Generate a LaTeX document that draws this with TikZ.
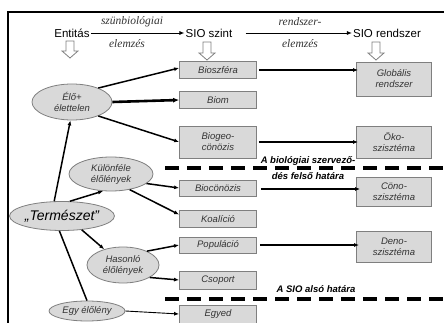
\documentclass[tikz,border=0pt]{standalone}
\usepackage{fontspec}
\setmainfont{Liberation Sans}
\newfontfamily\tmsfont{Liberation Serif}
\usetikzlibrary{arrows.meta,shapes.geometric,calc}
\definecolor{boxfill}{HTML}{D9D9D9}
\definecolor{boxline}{HTML}{7F7F7F}
\definecolor{txt}{HTML}{333333}
\begin{document}
\begin{tikzpicture}[x=1pt,y=-1pt,
 lvl/.style={draw=boxline, fill=boxfill, line width=0.8pt, font=\itshape\fontsize{9.5}{11}\selectfont, text=txt, align=center, inner sep=0pt, minimum width=77pt},
 sys/.style={lvl, minimum width=75pt},
 ell/.style={ellipse, draw=boxline, fill=boxfill, line width=0.8pt, font=\itshape\fontsize{9.5}{11}\selectfont, text=txt, align=center, inner sep=0pt},
 hdr/.style={font=\fontsize{11.5}{13}\selectfont, inner sep=1pt},
 ser/.style={font=\tmsfont\itshape\fontsize{11.5}{13}\selectfont, text=txt, inner sep=0pt},
 bnd/.style={font=\bfseries\itshape\fontsize{9.5}{11}\selectfont, inner sep=0pt, align=center},
 con/.style={line width=1.5pt, -{Latex[length=5pt,width=4pt]}},
 hcon/.style={line width=1.2pt, -{Latex[length=5pt,width=4pt]}},
 border/.style={line width=3.5pt, dash pattern=on 14pt off 8pt},
 hollow/.style={draw=boxline, fill=white, line width=0.8pt}
]
\useasboundingbox (0,0) rectangle (444,323);
% frame
\draw[line width=1.5pt] (8,323) -- (8,12) -- (444,12);

% header
\node[hdr] (ent) at (72,33) {Entitás};
\node[hdr] (sioszint) at (209,33) {SIO szint};
\node[hdr] (siorend) at (387,33) {SIO rendszer};
\draw[line width=0.9pt, -{Latex[length=5pt,width=4pt]}] (ent.east) -- (sioszint.west);
\draw[line width=0.9pt, -{Latex[length=5pt,width=4pt]}] ([xshift=12pt]sioszint.east) -- (siorend.west);
\node[ser] (l1) at (132,22) {szünbiológiai};
\node[ser] (l2) at (127,44) {elemzés};
\node[ser] (l3) at (300,22) {rendszer-};
\node[ser] (l4) at (300,44) {elemzés};

% hollow arrows
\foreach \hx/\ha/\hb in {70/41/58, 207/42/60, 376/42/60}
  \draw[hollow] (\hx-4,\ha) -- (\hx-4,\hb-7) -- (\hx-8,\hb-7) -- (\hx,\hb) -- (\hx+8,\hb-7) -- (\hx+4,\hb-7) -- (\hx+4,\ha) -- cycle;

% level boxes
\node[lvl, minimum height=17pt] (biosz) at (218,70) {Bioszféra};
\node[lvl, minimum height=17pt] (biom) at (218,100) {Biom};
\node[lvl, minimum height=32pt] (biogeo) at (218,142) {Biogeo-\\cönözis};
\node[lvl, minimum height=16pt] (bioc) at (218,188) {Biocönözis};
\node[lvl, minimum height=17pt] (koal) at (218,219) {Koalíció};
\node[lvl, minimum height=16pt] (pop) at (218,245) {Populáció};
\node[lvl, minimum height=18pt] (csop) at (218,280) {Csoport};
\node[lvl, minimum height=18pt] (egyed) at (218,314) {Egyed};

% system boxes
\node[sys, minimum height=34pt] (glob) at (394,79) {Globális\\rendszer};
\node[sys, minimum height=32pt] (oko) at (394,142) {Öko-\\szisztéma};
\node[sys, minimum height=29pt] (cono) at (394,192) {Cöno-\\szisztéma};
\node[sys, minimum height=31pt] (deno) at (394,247) {Deno-\\szisztéma};

% ellipses
\node[ell, minimum width=80pt, minimum height=36pt] (elo) at (72,102) {Élő+\\élettelen};
\node[ell, minimum width=84pt, minimum height=34pt] (kul) at (111,174) {Különféle\\élőlények};
\node[ell, minimum width=103pt, minimum height=29pt, font=\itshape\fontsize{14}{16}\selectfont, text=black] (term) at (62,216) {„Természet”};
\node[ell, minimum width=72pt, minimum height=36pt] (has) at (123,265) {Hasonló\\élőlények};
\node[ell, minimum width=76pt, minimum height=20pt] (egy) at (87,311) {Egy élőlény};

% connectors from ellipses
\draw[con] (elo.28) -- ([yshift=2pt]biosz.west);
\draw[line width=2.6pt, -{Latex[length=6pt,width=5pt]}] (elo.east) -- (biom.west);
\draw[con] (elo.-28) -- (biogeo.west);
\draw[con] (term.118) -- (elo.-95);
\draw[con] (term.62) -- (kul.-115);
\draw[con] (term.-35) -- (has.140);
\draw[line width=1.5pt] (term.-100) -- (egy.north);
\draw[con] (kul.-15) -- (bioc.west);
\draw[con] (kul.-40) -- ($(koal.north west)!0.25!(koal.south west)$);
\draw[con] (has.30) -- (pop.west);
\draw[con] (has.-25) -- (csop.west);
\draw[line width=0.9pt, -{Latex[length=5pt,width=4pt]}] (egy.east) -- (egyed.west);

% system connectors
\draw[hcon] ([xshift=2pt]biosz.east) -- ([xshift=2pt]biosz.east -| glob.west);
\draw[hcon] ([xshift=2pt]biogeo.east) -- ([xshift=2pt]biogeo.east -| oko.west);
\draw[hcon] ([xshift=4pt,yshift=-1pt]bioc.east) -- ([xshift=4pt,yshift=-1pt]bioc.east -| cono.west);
\draw[hcon] ([xshift=3pt]pop.east) -- ([xshift=3pt]pop.east -| deno.west);

% boundaries
\draw[border] (165,168) -- (444,168);
\draw[border] (165,299) -- (444,299);
\node[bnd, fill=white, inner sep=1pt] (ub1) at (308,161) {A biológiai szervező-};
\node[bnd] (ub2) at (308,176) {dés felső határa};
\node[bnd] (lb) at (316,289) {A SIO alsó határa};
\end{tikzpicture}
\end{document}
